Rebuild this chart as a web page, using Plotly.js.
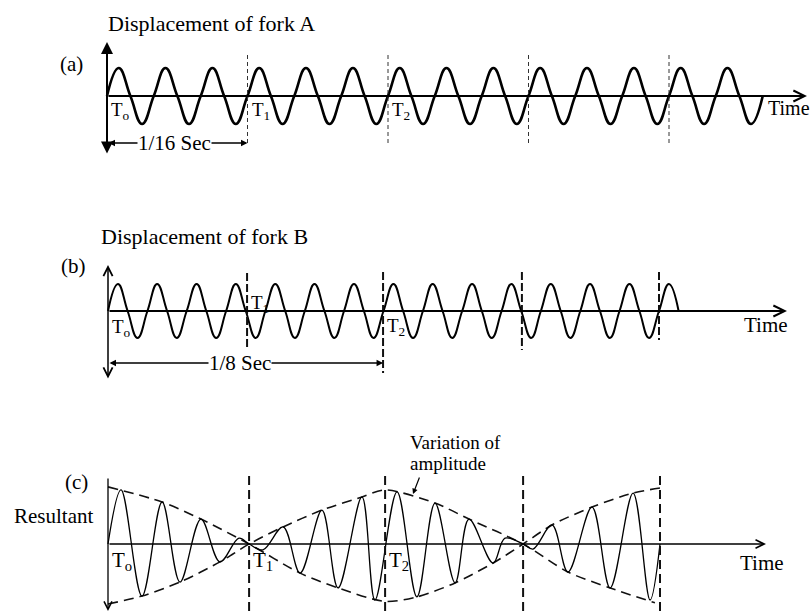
<!DOCTYPE html>
<html><head><meta charset="utf-8">
<script src="https://cdn.plot.ly/plotly-3.0.1.min.js"></script>
<style>html,body{margin:0;padding:0;background:#fff}#chart{width:812px;height:616px}</style>
</head><body><div id="chart"></div>
<script>
// ---------------- DATA (time in ms, displacement in arbitrary units) ----------------
// (a) fork A: zero crossings and extremes
const timeA = [0,5.2,10.4,15.6,20.8,26.0,31.3,36.5,41.7,46.9,52.1,57.3,62.5,67.7,72.9,78.1,83.3,88.5,93.8,99.0,
  104.2,109.4,114.6,119.8,125.0,130.2,135.4,140.6,145.8,151.0,156.3,161.5,166.7,171.9,177.1,182.3,187.5,192.7,
  197.9,203.1,208.3,213.5,218.8,224.0,229.2,234.4,239.6,244.8,250.0,255.2,260.4,265.6,270.8,276.0,281.3,286.5,291.7];
const dispA = [0,1,0,-1,0,1,0,-1,0,1,0,-1,0,1,0,-1,0,1,0,-1,0,1,0,-1,0,1,0,-1,0,1,0,-1,0,1,0,-1,0,1,0,-1,
  0,1,0,-1,0,1,0,-1,0,1,0,-1,0,1,0,-1,0];
// (b) fork B
const timeB = [0,4.5,8.9,13.4,17.9,22.3,26.8,31.2,35.7,40.2,44.6,49.1,53.6,58.0,62.5,67.0,71.4,75.9,80.4,84.8,
  89.3,93.7,98.2,102.7,107.1,111.6,116.1,120.5,125.0,129.5,133.9,138.4,142.9,147.3,151.8,156.2,160.7,165.2,169.6,
  174.1,178.6,183.0,187.5,192.0,196.4,200.9,205.4,209.8,214.3,218.7,223.2,227.7,232.1,236.6,241.1,245.5,250.0,254.5,258.9];
const dispB = [0,1,0,-1,0,1,0,-1,0,1,0,-1,0,1,0,-1,0,1,0,-1,0,1,0,-1,0,1,0,-1,0,1,0,-1,0,1,0,-1,0,1,0,-1,
  0,1,0,-1,0,1,0,-1,0,1,0,-1,0,1,0,-1,0,1,0];
// (c) resultant: start, extremes, nodes and end
const timeC = [0,5.9,15.4,24.5,32.6,42.1,50.7,59.3,63.9,70.2,79.3,87.0,96.9,104.2,115.0,120.9,130.9,139.9,148.1,
  157.2,163.5,174.4,179.8,188.0,192.5,201.1,208.3,219.2,227.4,237.8,245.5,250.0];
const dispC = [0,1.93,-1.86,1.5,-1.36,0.89,-0.64,0.21,0,-0.21,0.61,-1.04,1.21,-1.57,1.68,-2.0,1.86,-1.89,1.46,
  -1.39,0.89,-0.68,0.21,0,-0.18,0.68,-1.0,1.32,-1.57,1.82,-2.0,0];
// amplitude envelopes of (c)
const envUpperTime = [0,24.5,42.1,63.9,87.0,104.2,125.5,139.9,157.2,174.4,188.0,201.1,219.2,237.8,250.0];
const envUpperAmp  = [2.04,1.5,0.89,0,-1.04,-1.57,-2.05,-1.89,-1.39,-0.68,0,0.68,1.32,1.82,2.0];
const envLowerTime = [0,15.4,32.6,50.7,63.9,79.3,96.9,115.0,125.5,148.1,163.5,188.0,208.3,227.4,247.7];
const envLowerAmp  = [-2.14,-1.86,-1.36,-0.64,0,0.61,1.21,1.68,1.93,1.46,0.89,0,-1.0,-1.57,-2.1];
// instants T1..T4 marked by dashed lines in each panel
const marksA = [62.5,125.0,187.5,250.0];
const marksB = [63.1,124.8,187.8,250.0];
const marksC = [63.9,125.5,188.0,250.0];
const instantLabels = ['T<sub>o</sub>','T<sub>1</sub>','T<sub>2</sub>'];
const spanA = [0,62.5], spanALabel = '1/16 Sec';
const spanB = [0,124.8], spanBLabel = '1/8 Sec';
const titles = ['Displacement of fork A','Displacement of fork B'];
const panelTags = ['(a)','(b)','(c)'];

// ---------------- LAYOUT ----------------
const W=812,H=616, SERIF='"Liberation Serif","Times New Roman",serif';
const PA={xa:'x',ya:'y',x0:107,kx:2.248,base:96,ky:28,top:0,bot:200};
const PB={xa:'x2',ya:'y2',x0:108,kx:2.204,base:311,ky:27,top:200,bot:410};
const PC={xa:'x3',ya:'y3',x0:108,kx:2.208,base:544,ky:28,top:410,bot:616};
const dx=(P,p)=>(p-P.x0)/P.kx, dy=(P,p)=>(P.base-p)/P.ky, tx=(P,t)=>P.x0+t*P.kx;
function xax(P){return {domain:[0,1],range:[-P.x0/P.kx,(W-P.x0)/P.kx],visible:false,fixedrange:true,anchor:P.ya};}
function yax(P){return {domain:[1-P.bot/H,1-P.top/H],range:[-(P.bot-P.base)/P.ky,(P.base-P.top)/P.ky],visible:false,fixedrange:true,anchor:P.xa};}
function arrow(P,x0,y0,x1,y1,o){return Object.assign({xref:P.xa,yref:P.ya,axref:P.xa,ayref:P.ya,x:dx(P,x1),y:dy(P,y1),ax:dx(P,x0),ay:dy(P,y0),
  text:'',showarrow:true,arrowcolor:'#000',arrowwidth:1.5,arrowhead:5,arrowsize:1,standoff:0,startstandoff:0},o||{});}
function txt(text,xp,yp,size,xa,ya,extra){return Object.assign({xref:'paper',yref:'paper',x:xp/W,y:1-yp/H,text:text,showarrow:false,
  xanchor:xa||'left',yanchor:ya||'middle',font:{family:SERIF,size:size,color:'#000'}},extra||{});}
function vdash(P,t,y0,y1,w,dash,col){return {type:'line',xref:P.xa,yref:P.ya,x0:t,x1:t,y0:dy(P,y0),y1:dy(P,y1),line:{color:col||'#111',width:w,dash:dash}};}

const traces=[
 {x:timeA,y:dispA,xaxis:'x',yaxis:'y',mode:'lines',line:{color:'#000',width:2.6,shape:'spline',smoothing:1.3},hoverinfo:'skip'},
 {x:timeB,y:dispB,xaxis:'x2',yaxis:'y2',mode:'lines',line:{color:'#000',width:2,shape:'spline',smoothing:1.3},hoverinfo:'skip'},
 {x:envUpperTime,y:envUpperAmp,xaxis:'x3',yaxis:'y3',mode:'lines',line:{color:'#111',width:1.6,dash:'10px,6px',shape:'spline',smoothing:0.8},hoverinfo:'skip'},
 {x:envLowerTime,y:envLowerAmp,xaxis:'x3',yaxis:'y3',mode:'lines',line:{color:'#111',width:1.6,dash:'10px,6px',shape:'spline',smoothing:0.8},hoverinfo:'skip'},
 {x:timeC,y:dispC,xaxis:'x3',yaxis:'y3',mode:'lines',line:{color:'#000',width:1.3,shape:'spline',smoothing:1},hoverinfo:'skip'}
];

const shapes=[];
marksA.forEach(t=>shapes.push(vdash(PA,t,55,146,1,'4px,3px','#333')));
const bExt=[[273,347],[272,373],[272,350],[272,340]];
marksB.forEach((t,i)=>shapes.push(vdash(PB,t,bExt[i][0],bExt[i][1],2,'8px,3px')));
marksC.forEach(t=>shapes.push(vdash(PC,t,476,616,2,'9px,5px')));

const ann=[];
// axes (a)
ann.push(arrow(PA,107,155,107,42,{arrowhead:2,arrowwidth:2,arrowsize:1.2,arrowside:'end+start',startarrowhead:2,startarrowsize:1.2}));
ann.push(arrow(PA,107,96,807,96,{arrowwidth:2,arrowsize:1.1}));
// axes (b)
ann.push(arrow(PB,108,380,108,265,{arrowwidth:1.5,arrowsize:1.2,arrowside:'end+start',startarrowhead:5,startarrowsize:1.2}));
ann.push(arrow(PB,108,311,787,311,{arrowwidth:2,arrowsize:1.1}));
// axes (c)
ann.push(arrow(PC,108,477,108,611,{arrowwidth:1.3,arrowsize:1.2}));
ann.push(arrow(PC,108,544,766,544,{arrowwidth:1.3,arrowsize:1.3}));
// spans
ann.push({xref:'x',yref:'y',axref:'x',ayref:'y',x:spanA[1],y:dy(PA,143),ax:spanA[0],ay:dy(PA,143),text:'',showarrow:true,arrowcolor:'#000',
  arrowwidth:1.3,arrowhead:2,arrowsize:1,arrowside:'end+start',startarrowhead:2,startarrowsize:1,standoff:0,startstandoff:0});
ann.push(txt(spanALabel,tx(PA,(spanA[0]+spanA[1])/2)-3,143,21,'center','middle',{bgcolor:'#fff',borderpad:0}));
ann.push({xref:'x2',yref:'y2',axref:'x2',ayref:'y2',x:spanB[1],y:dy(PB,363),ax:spanB[0],ay:dy(PB,363),text:'',showarrow:true,arrowcolor:'#000',
  arrowwidth:1.3,arrowhead:2,arrowsize:1,arrowside:'end+start',startarrowhead:2,startarrowsize:1,standoff:0,startstandoff:0});
ann.push(txt(spanBLabel,240,363,21,'center','middle',{bgcolor:'#fff',borderpad:0}));
// titles & tags
ann.push(txt(titles[0],106,23,22));
ann.push(txt(titles[1],99,237,22));
ann.push(txt(panelTags[0],58,64,21));
ann.push(txt(panelTags[1],59,266,21));
ann.push(txt(panelTags[2],63,482,21));
ann.push(txt('Resultant',12,516,21));
ann.push(txt('Time',766,108,20));
ann.push(txt('Time',742,325,21));
ann.push(txt('Time',738,563,21));
ann.push(txt('Variation of',408,442,19));
ann.push(txt('amplitude',408,463,19));
ann.push(arrow(PC,420,476,413,494,{arrowwidth:1.2,arrowhead:2,arrowsize:0.9}));
// instant labels
[[PA,[0,marksA[0],marksA[1]],[97,97,97],19],[PB,[0,marksB[0],marksB[1]],[314,290,313],19],[PC,[0,marksC[0],marksC[1]],[546,546,546],21]].forEach(cfg=>{
  const [P,ts,ys,fs]=cfg;
  ts.forEach((t,i)=>ann.push(txt(instantLabels[i],tx(P,t)+2,ys[i],fs,'left','top')));
});

const layout={width:W,height:H,margin:{l:0,r:0,t:0,b:0},paper_bgcolor:'#fff',plot_bgcolor:'rgba(0,0,0,0)',showlegend:false,
  xaxis:xax(PA),yaxis:yax(PA),xaxis2:xax(PB),yaxis2:yax(PB),xaxis3:xax(PC),yaxis3:yax(PC),shapes:shapes,annotations:ann,
  font:{family:SERIF,color:'#000'}};
Plotly.newPlot('chart',traces,layout,{staticPlot:true,displayModeBar:false});
</script></body></html>
